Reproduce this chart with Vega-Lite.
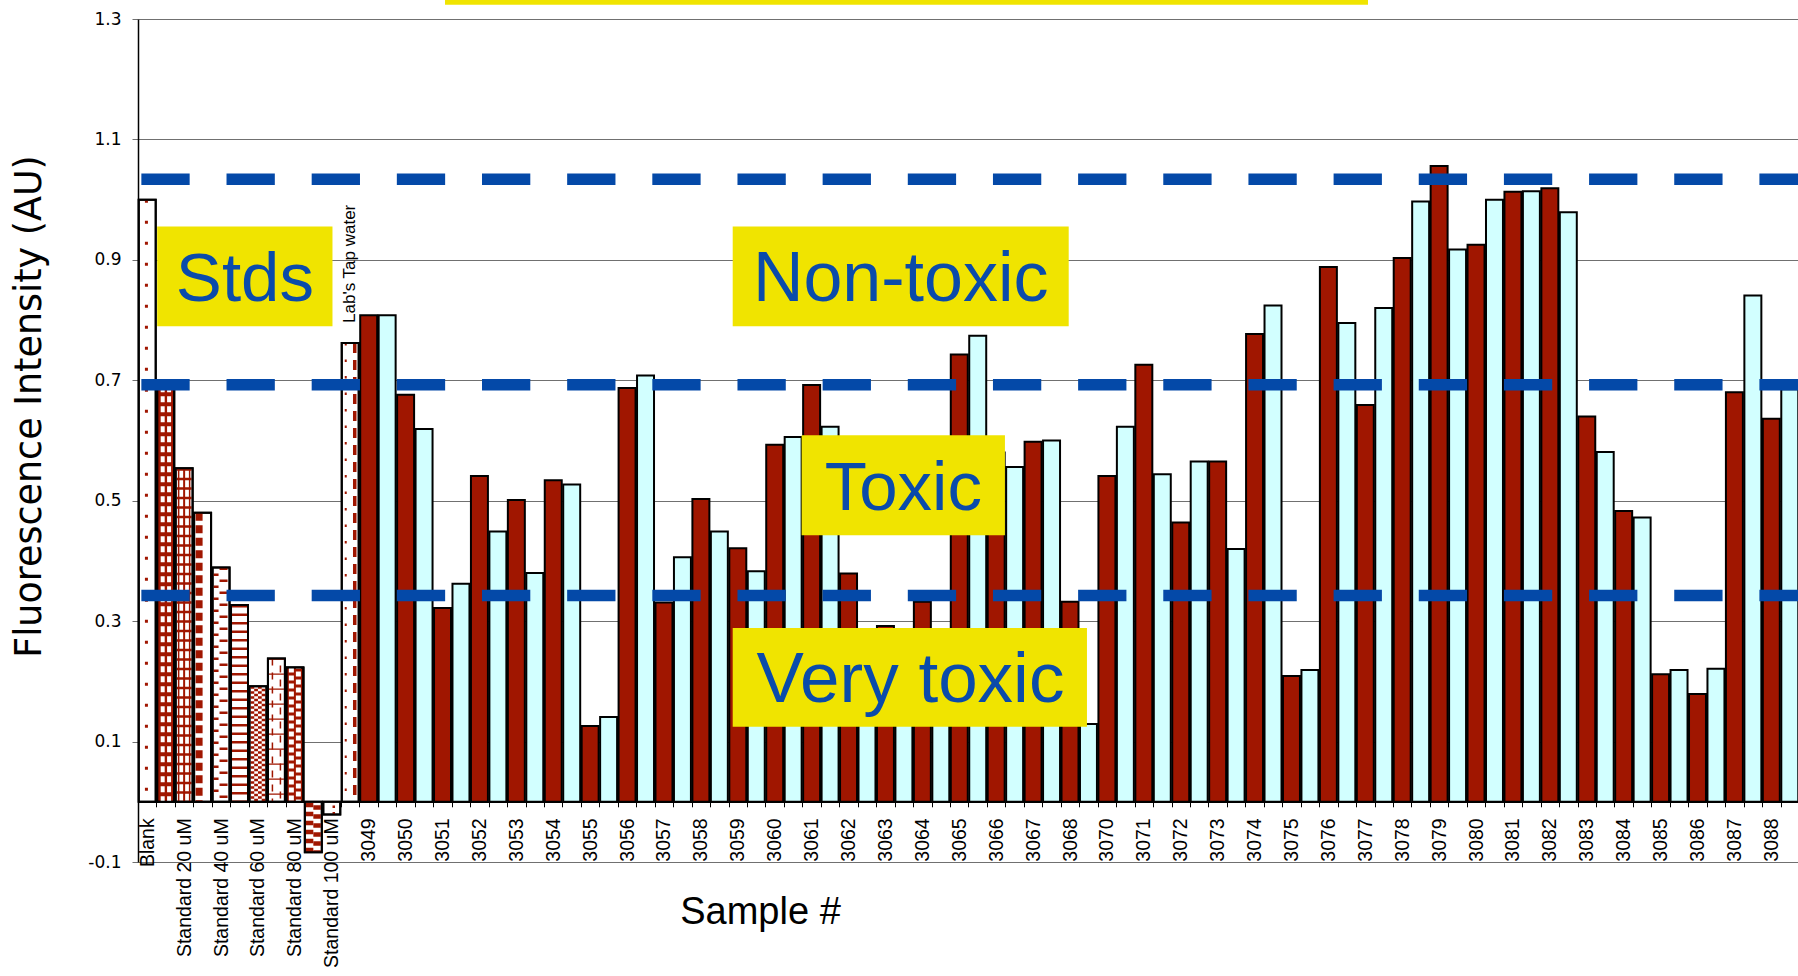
{
  "$schema": "https://vega.github.io/schema/vega-lite/v6.json",
  "width": 1661,
  "height": 843,
  "autosize": {"type": "none"},
  "padding": {"left": 138, "top": 19, "right": 0, "bottom": 114},
  "background": "white",
  "config": {"view": {"stroke": null}},
  "datasets": {
    "bars": [
      {"key": "Blank", "sample": "Blank", "rep": "std", "v": 1.0},
      {"key": "Blank|2", "sample": "Blank", "rep": "std", "v": 0.69},
      {"key": "Standard 20 uM", "sample": "Standard 20 uM", "rep": "std", "v": 0.554},
      {"key": "Standard 20 uM|2", "sample": "Standard 20 uM", "rep": "std", "v": 0.48},
      {"key": "Standard 40 uM", "sample": "Standard 40 uM", "rep": "std", "v": 0.389},
      {"key": "Standard 40 uM|2", "sample": "Standard 40 uM", "rep": "std", "v": 0.327},
      {"key": "Standard 60 uM", "sample": "Standard 60 uM", "rep": "std", "v": 0.192},
      {"key": "Standard 60 uM|2", "sample": "Standard 60 uM", "rep": "std", "v": 0.238},
      {"key": "Standard 80 uM", "sample": "Standard 80 uM", "rep": "std", "v": 0.223},
      {"key": "Standard 80 uM|2", "sample": "Standard 80 uM", "rep": "std", "v": -0.084},
      {"key": "Standard 100 uM", "sample": "Standard 100 uM", "rep": "std", "v": -0.021},
      {"key": "Lab's Tap water|", "sample": "Lab's Tap water", "rep": "std", "v": 0.762},
      {"key": "3049", "sample": "3049", "rep": "A", "v": 0.808}, {"key": "3049|2", "sample": "3049", "rep": "B", "v": 0.808},
      {"key": "3050", "sample": "3050", "rep": "A", "v": 0.676}, {"key": "3050|2", "sample": "3050", "rep": "B", "v": 0.619},
      {"key": "3051", "sample": "3051", "rep": "A", "v": 0.322}, {"key": "3051|2", "sample": "3051", "rep": "B", "v": 0.362},
      {"key": "3052", "sample": "3052", "rep": "A", "v": 0.541}, {"key": "3052|2", "sample": "3052", "rep": "B", "v": 0.449},
      {"key": "3053", "sample": "3053", "rep": "A", "v": 0.501}, {"key": "3053|2", "sample": "3053", "rep": "B", "v": 0.380},
      {"key": "3054", "sample": "3054", "rep": "A", "v": 0.534}, {"key": "3054|2", "sample": "3054", "rep": "B", "v": 0.527},
      {"key": "3055", "sample": "3055", "rep": "A", "v": 0.126}, {"key": "3055|2", "sample": "3055", "rep": "B", "v": 0.141},
      {"key": "3056", "sample": "3056", "rep": "A", "v": 0.687}, {"key": "3056|2", "sample": "3056", "rep": "B", "v": 0.708},
      {"key": "3057", "sample": "3057", "rep": "A", "v": 0.331}, {"key": "3057|2", "sample": "3057", "rep": "B", "v": 0.406},
      {"key": "3058", "sample": "3058", "rep": "A", "v": 0.503}, {"key": "3058|2", "sample": "3058", "rep": "B", "v": 0.449},
      {"key": "3059", "sample": "3059", "rep": "A", "v": 0.421}, {"key": "3059|2", "sample": "3059", "rep": "B", "v": 0.383},
      {"key": "3060", "sample": "3060", "rep": "A", "v": 0.593}, {"key": "3060|2", "sample": "3060", "rep": "B", "v": 0.606},
      {"key": "3061", "sample": "3061", "rep": "A", "v": 0.692}, {"key": "3061|2", "sample": "3061", "rep": "B", "v": 0.623},
      {"key": "3062", "sample": "3062", "rep": "A", "v": 0.379}, {"key": "3062|2", "sample": "3062", "rep": "B", "v": 0.24},
      {"key": "3063", "sample": "3063", "rep": "A", "v": 0.292}, {"key": "3063|2", "sample": "3063", "rep": "B", "v": 0.27},
      {"key": "3064", "sample": "3064", "rep": "A", "v": 0.332}, {"key": "3064|2", "sample": "3064", "rep": "B", "v": 0.22},
      {"key": "3065", "sample": "3065", "rep": "A", "v": 0.743}, {"key": "3065|2", "sample": "3065", "rep": "B", "v": 0.774},
      {"key": "3066", "sample": "3066", "rep": "A", "v": 0.58}, {"key": "3066|2", "sample": "3066", "rep": "B", "v": 0.556},
      {"key": "3067", "sample": "3067", "rep": "A", "v": 0.598}, {"key": "3067|2", "sample": "3067", "rep": "B", "v": 0.600},
      {"key": "3068", "sample": "3068", "rep": "A", "v": 0.332}, {"key": "3068|2", "sample": "3068", "rep": "B", "v": 0.129},
      {"key": "3070", "sample": "3070", "rep": "A", "v": 0.541}, {"key": "3070|2", "sample": "3070", "rep": "B", "v": 0.623},
      {"key": "3071", "sample": "3071", "rep": "A", "v": 0.726}, {"key": "3071|2", "sample": "3071", "rep": "B", "v": 0.544},
      {"key": "3072", "sample": "3072", "rep": "A", "v": 0.464}, {"key": "3072|2", "sample": "3072", "rep": "B", "v": 0.565},
      {"key": "3073", "sample": "3073", "rep": "A", "v": 0.565}, {"key": "3073|2", "sample": "3073", "rep": "B", "v": 0.420},
      {"key": "3074", "sample": "3074", "rep": "A", "v": 0.777}, {"key": "3074|2", "sample": "3074", "rep": "B", "v": 0.824},
      {"key": "3075", "sample": "3075", "rep": "A", "v": 0.209}, {"key": "3075|2", "sample": "3075", "rep": "B", "v": 0.219},
      {"key": "3076", "sample": "3076", "rep": "A", "v": 0.888}, {"key": "3076|2", "sample": "3076", "rep": "B", "v": 0.795},
      {"key": "3077", "sample": "3077", "rep": "A", "v": 0.659}, {"key": "3077|2", "sample": "3077", "rep": "B", "v": 0.820},
      {"key": "3078", "sample": "3078", "rep": "A", "v": 0.903}, {"key": "3078|2", "sample": "3078", "rep": "B", "v": 0.997},
      {"key": "3079", "sample": "3079", "rep": "A", "v": 1.056}, {"key": "3079|2", "sample": "3079", "rep": "B", "v": 0.917},
      {"key": "3080", "sample": "3080", "rep": "A", "v": 0.925}, {"key": "3080|2", "sample": "3080", "rep": "B", "v": 1.000},
      {"key": "3081", "sample": "3081", "rep": "A", "v": 1.013}, {"key": "3081|2", "sample": "3081", "rep": "B", "v": 1.014},
      {"key": "3082", "sample": "3082", "rep": "A", "v": 1.019}, {"key": "3082|2", "sample": "3082", "rep": "B", "v": 0.979},
      {"key": "3083", "sample": "3083", "rep": "A", "v": 0.640}, {"key": "3083|2", "sample": "3083", "rep": "B", "v": 0.581},
      {"key": "3084", "sample": "3084", "rep": "A", "v": 0.483}, {"key": "3084|2", "sample": "3084", "rep": "B", "v": 0.472},
      {"key": "3085", "sample": "3085", "rep": "A", "v": 0.212}, {"key": "3085|2", "sample": "3085", "rep": "B", "v": 0.219},
      {"key": "3086", "sample": "3086", "rep": "A", "v": 0.179}, {"key": "3086|2", "sample": "3086", "rep": "B", "v": 0.221},
      {"key": "3087", "sample": "3087", "rep": "A", "v": 0.680}, {"key": "3087|2", "sample": "3087", "rep": "B", "v": 0.841},
      {"key": "3088", "sample": "3088", "rep": "A", "v": 0.636}, {"key": "3088|2", "sample": "3088", "rep": "B", "v": 0.685}
    ],
    "thresholds": [{"t": 1.034}, {"t": 0.6925}, {"t": 0.3425}],
    "boxes": [
      {"label": "Stds", "ka": "Blank|2", "kb": "Standard 100 uM", "y0": 0.7896, "y1": 0.9555, "kt": "Standard 40 uM|2", "ty": 0.8726},
      {"label": "Non-toxic", "ka": "3059", "kb": "3068", "y0": 0.7896, "y1": 0.9555, "kt": "3063|2", "ty": 0.8726},
      {"label": "Toxic", "ka": "3061", "kb": "3066|2", "y0": 0.4425, "y1": 0.6087, "kt": "3063|2", "ty": 0.5256},
      {"label": "Very toxic", "ka": "3059", "kb": "3068|2", "y0": 0.1246, "y1": 0.2885, "kt": "3063|2", "ty": 0.2066},
      {"label": "", "ka": "3051", "kb": "3077", "y0": 1.3235, "y1": 1.6, "kt": "3064", "ty": 1.45}
    ]
  },
  "layer": [
    {
      "data": {"name": "bars"},
      "mark": {"type": "bar", "stroke": "black", "strokeWidth": 2},
      "encoding": {
        "x": {
          "field": "key", "type": "nominal",
          "scale": {
            "domain": ["Blank", "Blank|2", "Standard 20 uM", "Standard 20 uM|2", "Standard 40 uM", "Standard 40 uM|2", "Standard 60 uM", "Standard 60 uM|2", "Standard 80 uM", "Standard 80 uM|2", "Standard 100 uM", "Lab's Tap water|",
              "3049", "3049|2", "3050", "3050|2", "3051", "3051|2", "3052", "3052|2", "3053", "3053|2", "3054", "3054|2", "3055", "3055|2", "3056", "3056|2", "3057", "3057|2", "3058", "3058|2", "3059", "3059|2", "3060", "3060|2",
              "3061", "3061|2", "3062", "3062|2", "3063", "3063|2", "3064", "3064|2", "3065", "3065|2", "3066", "3066|2", "3067", "3067|2", "3068", "3068|2", "3070", "3070|2", "3071", "3071|2", "3072", "3072|2", "3073", "3073|2",
              "3074", "3074|2", "3075", "3075|2", "3076", "3076|2", "3077", "3077|2", "3078", "3078|2", "3079", "3079|2", "3080", "3080|2", "3081", "3081|2", "3082", "3082|2", "3083", "3083|2", "3084", "3084|2", "3085", "3085|2",
              "3086", "3086|2", "3087", "3087|2", "3088", "3088|2"],
            "paddingInner": 0.08, "paddingOuter": 0.04
          },
          "axis": {
            "orient": "bottom", "offset": -60.2,
            "labelExpr": "indexof(datum.value, '|') >= 0 ? '' : datum.value",
            "labelAngle": 270, "labelAlign": "right", "labelBaseline": "middle",
            "labelFont": "Liberation Sans", "labelFontSize": 19.5, "labelColor": "black",
            "labelPadding": 11, "labelOverlap": false, "labelBound": false, "labelFlush": false,
            "tickOffset": -9.23, "labelOffset": 9.23,
            "tickSize": 5, "tickColor": "black", "tickWidth": 1,
            "domainColor": "black", "domainWidth": 1.5, "grid": false,
            "title": "Sample #", "titleFont": "Liberation Sans", "titleFontSize": 38,
            "titleFontWeight": "normal", "titleColor": "black", "titleX": 622, "titleY": 111,
            "titleAlign": "center", "titleBaseline": "middle", "titleAngle": 0
          }
        },
        "y": {
          "field": "v", "type": "quantitative",
          "scale": {"domain": [-0.1, 1.3], "nice": false, "zero": false},
          "axis": {
            "values": [-0.1, 0.1, 0.3, 0.5, 0.7, 0.9, 1.1, 1.3],
            "labelExpr": "replace(format(datum.value, '.1f'), '\u2212', '-')",
            "labelFont": "DejaVu Sans", "labelFontSize": 17, "labelColor": "black",
            "labelPadding": 11, "tickSize": 6, "tickColor": "#707070",
            "domainColor": "black", "domainWidth": 1.5,
            "grid": true, "gridColor": "#707070", "gridWidth": 1,
            "title": "Fluorescence Intensity (AU)", "titleFont": "DejaVu Sans", "titleFontSize": 36.5,
            "titleFontWeight": "normal", "titleColor": "black", "titleX": -109, "titleY": 387,
            "titleAngle": 270, "titleAlign": "center", "titleBaseline": "middle"
          }
        },
        "fill": {
          "field": "rep", "type": "nominal",
          "scale": {"domain": ["std", "A", "B"], "range": ["#FFFFFF", "#A01600", "#D2FFFF"]},
          "legend": null
        }
      }
    },
    {"data": {"name": "bars"}, "transform": [{"filter": "datum.key === 'Blank|2' || datum.key === 'Standard 80 uM'"}], "mark": {"type": "bar", "fill": "#A01600", "stroke": "black", "strokeWidth": 2}, "encoding": {"x": {"field": "key", "type": "nominal"}, "y": {"field": "v", "type": "quantitative"}}},
    {"data": {"name": "bars"}, "transform": [{"filter": "datum.key === 'Blank'"}], "mark": {"type": "rule", "color": "#A01600", "strokeWidth": 3, "strokeDash": [3, 18], "xOffset": -0.8}, "encoding": {"x": {"field": "key", "type": "nominal"}, "y": {"field": "v", "type": "quantitative"}, "y2": {"datum": 0}}},
    {"data": {"name": "bars"}, "transform": [{"filter": "datum.key === 'Blank|2'"}], "mark": {"type": "rule", "color": "#ffffff", "strokeWidth": 4, "strokeDash": [6, 4], "xOffset": -3}, "encoding": {"x": {"field": "key", "type": "nominal"}, "y": {"field": "v", "type": "quantitative"}, "y2": {"datum": 0}}},
    {"data": {"name": "bars"}, "transform": [{"filter": "datum.key === 'Blank|2'"}], "mark": {"type": "rule", "color": "#ffffff", "strokeWidth": 4, "strokeDash": [6, 4], "xOffset": 3.4}, "encoding": {"x": {"field": "key", "type": "nominal"}, "y": {"field": "v", "type": "quantitative"}, "y2": {"datum": 0}}},
    {"data": {"name": "bars"}, "transform": [{"filter": "datum.key === 'Standard 20 uM'"}], "mark": {"type": "rule", "color": "#A01600", "strokeWidth": 15, "strokeDash": [2.5, 7]}, "encoding": {"x": {"field": "key", "type": "nominal"}, "y": {"field": "v", "type": "quantitative"}, "y2": {"datum": 0}}},
    {"data": {"name": "bars"}, "transform": [{"filter": "datum.key === 'Standard 20 uM'"}], "mark": {"type": "rule", "color": "#A01600", "strokeWidth": 2}, "encoding": {"x": {"field": "key", "type": "nominal"}, "y": {"field": "v", "type": "quantitative"}, "y2": {"datum": 0}}},
    {"data": {"name": "bars"}, "transform": [{"filter": "datum.key === 'Standard 20 uM'"}], "mark": {"type": "rule", "color": "#A01600", "strokeWidth": 1.5, "xOffset": -5.5}, "encoding": {"x": {"field": "key", "type": "nominal"}, "y": {"field": "v", "type": "quantitative"}, "y2": {"datum": 0}}},
    {"data": {"name": "bars"}, "transform": [{"filter": "datum.key === 'Standard 20 uM'"}], "mark": {"type": "rule", "color": "#A01600", "strokeWidth": 1.5, "xOffset": 5.5}, "encoding": {"x": {"field": "key", "type": "nominal"}, "y": {"field": "v", "type": "quantitative"}, "y2": {"datum": 0}}},
    {"data": {"name": "bars"}, "transform": [{"filter": "datum.key === 'Standard 20 uM|2'"}], "mark": {"type": "rule", "color": "#A01600", "strokeWidth": 7, "strokeDash": [8, 4.5], "xOffset": -3.5}, "encoding": {"x": {"field": "key", "type": "nominal"}, "y": {"field": "v", "type": "quantitative"}, "y2": {"datum": 0}}},
    {"data": {"name": "bars"}, "transform": [{"filter": "datum.key === 'Standard 40 uM'"}], "mark": {"type": "rule", "color": "#A01600", "strokeWidth": 8, "strokeDash": [2.5, 9.5], "xOffset": 2.5}, "encoding": {"x": {"field": "key", "type": "nominal"}, "y": {"field": "v", "type": "quantitative"}, "y2": {"datum": 0}}},
    {"data": {"name": "bars"}, "transform": [{"filter": "datum.key === 'Standard 40 uM'"}], "mark": {"type": "rule", "color": "#A01600", "strokeWidth": 5, "strokeDash": [2.5, 9.5], "strokeDashOffset": 6, "xOffset": -5}, "encoding": {"x": {"field": "key", "type": "nominal"}, "y": {"field": "v", "type": "quantitative"}, "y2": {"datum": 0}}},
    {"data": {"name": "bars"}, "transform": [{"filter": "datum.key === 'Standard 40 uM|2'"}], "mark": {"type": "rule", "color": "#A01600", "strokeWidth": 15, "strokeDash": [2.5, 6]}, "encoding": {"x": {"field": "key", "type": "nominal"}, "y": {"field": "v", "type": "quantitative"}, "y2": {"datum": 0}}},
    {"data": {"name": "bars"}, "transform": [{"filter": "datum.key === 'Standard 60 uM'"}], "mark": {"type": "rule", "color": "#A01600", "strokeWidth": 3.75, "strokeDash": [2.5, 2.5], "xOffset": -5.6}, "encoding": {"x": {"field": "key", "type": "nominal"}, "y": {"field": "v", "type": "quantitative"}, "y2": {"datum": 0}}},
    {"data": {"name": "bars"}, "transform": [{"filter": "datum.key === 'Standard 60 uM'"}], "mark": {"type": "rule", "color": "#A01600", "strokeWidth": 3.75, "strokeDash": [2.5, 2.5], "strokeDashOffset": 2.5, "xOffset": -1.9}, "encoding": {"x": {"field": "key", "type": "nominal"}, "y": {"field": "v", "type": "quantitative"}, "y2": {"datum": 0}}},
    {"data": {"name": "bars"}, "transform": [{"filter": "datum.key === 'Standard 60 uM'"}], "mark": {"type": "rule", "color": "#A01600", "strokeWidth": 3.75, "strokeDash": [2.5, 2.5], "xOffset": 1.9}, "encoding": {"x": {"field": "key", "type": "nominal"}, "y": {"field": "v", "type": "quantitative"}, "y2": {"datum": 0}}},
    {"data": {"name": "bars"}, "transform": [{"filter": "datum.key === 'Standard 60 uM'"}], "mark": {"type": "rule", "color": "#A01600", "strokeWidth": 3.75, "strokeDash": [2.5, 2.5], "strokeDashOffset": 2.5, "xOffset": 5.6}, "encoding": {"x": {"field": "key", "type": "nominal"}, "y": {"field": "v", "type": "quantitative"}, "y2": {"datum": 0}}},
    {"data": {"name": "bars"}, "transform": [{"filter": "datum.key === 'Standard 60 uM|2'"}], "mark": {"type": "rule", "color": "#A01600", "strokeWidth": 1.5, "strokeDash": [7, 7], "xOffset": -4}, "encoding": {"x": {"field": "key", "type": "nominal"}, "y": {"field": "v", "type": "quantitative"}, "y2": {"datum": 0}}},
    {"data": {"name": "bars"}, "transform": [{"filter": "datum.key === 'Standard 60 uM|2'"}], "mark": {"type": "rule", "color": "#A01600", "strokeWidth": 1.5, "strokeDash": [7, 7], "strokeDashOffset": 7, "xOffset": 4}, "encoding": {"x": {"field": "key", "type": "nominal"}, "y": {"field": "v", "type": "quantitative"}, "y2": {"datum": 0}}},
    {"data": {"name": "bars"}, "transform": [{"filter": "datum.key === 'Standard 60 uM|2'"}], "mark": {"type": "rule", "color": "#A01600", "strokeWidth": 15, "strokeDash": [1.2, 13.8]}, "encoding": {"x": {"field": "key", "type": "nominal"}, "y": {"field": "v", "type": "quantitative"}, "y2": {"datum": 0}}},
    {"data": {"name": "bars"}, "transform": [{"filter": "datum.key === 'Standard 80 uM'"}], "mark": {"type": "rule", "color": "#ffffff", "strokeWidth": 5, "strokeDash": [5, 3], "xOffset": -3.5}, "encoding": {"x": {"field": "key", "type": "nominal"}, "y": {"field": "v", "type": "quantitative"}, "y2": {"datum": 0}}},
    {"data": {"name": "bars"}, "transform": [{"filter": "datum.key === 'Standard 80 uM'"}], "mark": {"type": "rule", "color": "#ffffff", "strokeWidth": 5, "strokeDash": [5, 3], "strokeDashOffset": 4, "xOffset": 3.5}, "encoding": {"x": {"field": "key", "type": "nominal"}, "y": {"field": "v", "type": "quantitative"}, "y2": {"datum": 0}}},
    {"data": {"name": "bars"}, "transform": [{"filter": "datum.key === 'Standard 80 uM|2'"}], "mark": {"type": "rule", "color": "#A01600", "strokeWidth": 7.5, "strokeDash": [4.5, 4.5], "xOffset": -3.75}, "encoding": {"x": {"field": "key", "type": "nominal"}, "y": {"field": "v", "type": "quantitative"}, "y2": {"datum": 0}}},
    {"data": {"name": "bars"}, "transform": [{"filter": "datum.key === 'Standard 80 uM|2'"}], "mark": {"type": "rule", "color": "#A01600", "strokeWidth": 7.5, "strokeDash": [4.5, 4.5], "strokeDashOffset": 2.5, "xOffset": 3.75}, "encoding": {"x": {"field": "key", "type": "nominal"}, "y": {"field": "v", "type": "quantitative"}, "y2": {"datum": 0}}},
    {"data": {"name": "bars"}, "transform": [{"filter": "datum.key === 'Standard 100 uM'"}], "mark": {"type": "rule", "color": "#A01600", "strokeWidth": 2.5, "strokeDash": [2.5, 4], "xOffset": 2}, "encoding": {"x": {"field": "key", "type": "nominal"}, "y": {"field": "v", "type": "quantitative"}, "y2": {"datum": 0}}},
    {"data": {"name": "bars"}, "transform": [{"filter": "datum.rep === 'std' && datum.sample === \"Lab's Tap water\""}], "mark": {"type": "rule", "color": "#A01600", "strokeWidth": 3.5, "strokeDash": [10, 7], "xOffset": 4.5}, "encoding": {"x": {"field": "key", "type": "nominal"}, "y": {"field": "v", "type": "quantitative"}, "y2": {"datum": 0}}},
    {"data": {"name": "bars"}, "transform": [{"filter": "datum.rep === 'std' && datum.sample === \"Lab's Tap water\""}], "mark": {"type": "rule", "color": "#A01600", "strokeWidth": 2, "strokeDash": [2.5, 14], "xOffset": -4.5}, "encoding": {"x": {"field": "key", "type": "nominal"}, "y": {"field": "v", "type": "quantitative"}, "y2": {"datum": 0}}},
    {
      "data": {"name": "bars"},
      "transform": [{"filter": "datum.rep === 'std'"}],
      "mark": {"type": "bar", "fillOpacity": 0, "stroke": "black", "strokeWidth": 2},
      "encoding": {"x": {"field": "key", "type": "nominal"}, "y": {"field": "v", "type": "quantitative"}}
    },
    {
      "data": {"name": "bars"},
      "transform": [{"filter": "datum.sample === \"Lab's Tap water\""}],
      "mark": {"type": "text", "angle": 270, "align": "left", "baseline": "middle", "dx": 20, "font": "Liberation Sans", "fontSize": 17, "color": "black"},
      "encoding": {"x": {"field": "key", "type": "nominal"}, "y": {"field": "v", "type": "quantitative"}, "text": {"field": "sample"}}
    },
    {
      "data": {"name": "thresholds"},
      "mark": {"type": "rule", "color": "#0449A8", "strokeWidth": 11.5, "strokeDash": [48.3, 36.86], "strokeDashOffset": 8.7, "strokeCap": "butt"},
      "encoding": {"y": {"field": "t", "type": "quantitative"}}
    },
    {"data": {"name": "boxes"}, "transform": [{"filter": "datum.label === 'Stds'"}], "mark": {"type": "rect", "color": "#F0E400", "xOffset": -8.5, "x2Offset": 0.7},
      "encoding": {"x": {"field": "ka", "type": "nominal"}, "x2": {"field": "kb"}, "y": {"field": "y0", "type": "quantitative"}, "y2": {"field": "y1"}}},
    {"data": {"name": "boxes"}, "transform": [{"filter": "datum.label === 'Non-toxic'"}], "mark": {"type": "rect", "color": "#F0E400", "xOffset": -5.1, "x2Offset": -1.3},
      "encoding": {"x": {"field": "ka", "type": "nominal"}, "x2": {"field": "kb"}, "y": {"field": "y0", "type": "quantitative"}, "y2": {"field": "y1"}}},
    {"data": {"name": "boxes"}, "transform": [{"filter": "datum.label === 'Toxic'"}], "mark": {"type": "rect", "color": "#F0E400", "xOffset": -10, "x2Offset": -9.7},
      "encoding": {"x": {"field": "ka", "type": "nominal"}, "x2": {"field": "kb"}, "y": {"field": "y0", "type": "quantitative"}, "y2": {"field": "y1"}}},
    {"data": {"name": "boxes"}, "transform": [{"filter": "datum.label === 'Very toxic'"}], "mark": {"type": "rect", "color": "#F0E400", "xOffset": -5.1, "x2Offset": -1.5},
      "encoding": {"x": {"field": "ka", "type": "nominal"}, "x2": {"field": "kb"}, "y": {"field": "y0", "type": "quantitative"}, "y2": {"field": "y1"}}},
    {"data": {"name": "boxes"}, "transform": [{"filter": "datum.label === ''"}], "mark": {"type": "rect", "color": "#F0E400", "xOffset": 2.5, "x2Offset": 2.7},
      "encoding": {"x": {"field": "ka", "type": "nominal"}, "x2": {"field": "kb"}, "y": {"field": "y0", "type": "quantitative"}, "y2": {"field": "y1"}}},
    {"data": {"name": "boxes"}, "transform": [{"filter": "datum.label === 'Stds'"}], "mark": {"type": "text", "font": "Liberation Sans", "fontSize": 69, "color": "#0A4BAA", "align": "center", "baseline": "middle", "dy": 4, "dx": 5.4},
      "encoding": {"x": {"field": "kt", "type": "nominal"}, "y": {"field": "ty", "type": "quantitative"}, "text": {"field": "label"}}},
    {"data": {"name": "boxes"}, "transform": [{"filter": "datum.label === 'Non-toxic'"}], "mark": {"type": "text", "font": "Liberation Sans", "fontSize": 70, "color": "#0A4BAA", "align": "center", "baseline": "middle", "dy": 4, "dx": -3.2},
      "encoding": {"x": {"field": "kt", "type": "nominal"}, "y": {"field": "ty", "type": "quantitative"}, "text": {"field": "label"}}},
    {"data": {"name": "boxes"}, "transform": [{"filter": "datum.label === 'Toxic'"}], "mark": {"type": "text", "font": "Liberation Sans", "fontSize": 69, "color": "#0A4BAA", "align": "center", "baseline": "middle", "dy": 4, "dx": -0.6},
      "encoding": {"x": {"field": "kt", "type": "nominal"}, "y": {"field": "ty", "type": "quantitative"}, "text": {"field": "label"}}},
    {"data": {"name": "boxes"}, "transform": [{"filter": "datum.label === 'Very toxic'"}], "mark": {"type": "text", "font": "Liberation Sans", "fontSize": 71, "color": "#0A4BAA", "align": "center", "baseline": "middle", "dy": 4, "dx": 6.6},
      "encoding": {"x": {"field": "kt", "type": "nominal"}, "y": {"field": "ty", "type": "quantitative"}, "text": {"field": "label"}}}
  ]
}
